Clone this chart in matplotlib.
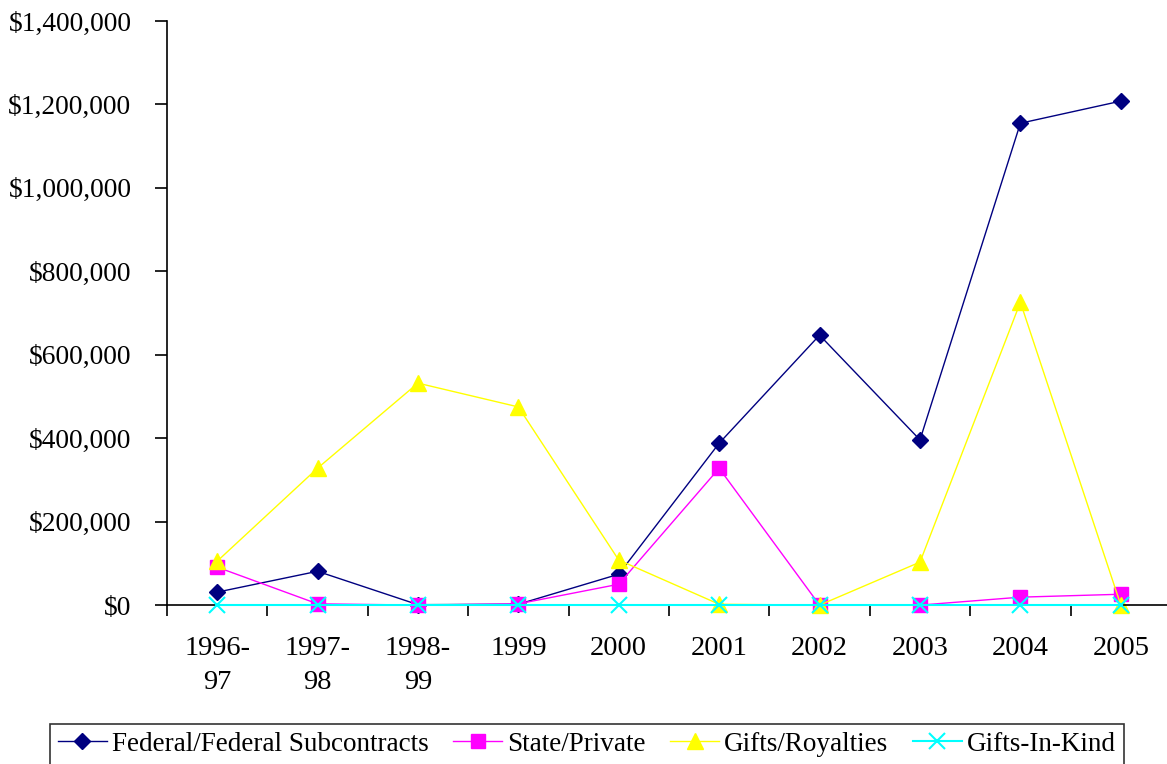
import numpy as np
import matplotlib
matplotlib.use("Agg")
import matplotlib.pyplot as plt
from matplotlib.ticker import FuncFormatter, FixedLocator

# datos
years = ["1996-\n97", "1997-\n98", "1998-\n99", "1999", "2000",
         "2001", "2002", "2003", "2004", "2005"]
federal = [31000, 81000, 1000, 2000, 74000, 388000, 647000, 396000, 1155000, 1208000]
state = [91000, 3000, 0, 3000, 50000, 328000, 0, 0, 19000, 26000]
gifts = [105000, 328000, 532000, 475000, 108000, 2000, 0, 103000, 726000, 0]
in_kind = [0, 0, 0, 0, 0, 0, 0, 0, 0, 0]

plt.rcParams['font.family'] = ['Liberation Serif', 'DejaVu Serif']

fig = plt.figure(figsize=(11.67, 7.64), dpi=100)
ax = fig.add_axes([0.143, 0.208, 0.857, 0.7645])

x = np.arange(len(years))
ax.plot(x, federal, color='#000080', lw=1, marker='D', ms=8, label='Federal/Federal Subcontracts', clip_on=False)
ax.plot(x, state, color='#FF00FF', lw=1, marker='s', ms=10, label='State/Private', clip_on=False)
ax.plot(x, gifts, color='#FFFF00', lw=1, marker='^', ms=11, label='Gifts/Royalties', clip_on=False)
ax.plot(x, in_kind, color='#00FFFF', lw=1.5, marker='x', ms=11, mew=1.5, label='Gifts-In-Kind', clip_on=False, zorder=5)

ax.set_ylim(0, 1400000)
ax.set_xlim(-0.5, 9.46)
ax.set_yticks(np.arange(0, 1400001, 200000))
ax.yaxis.set_major_formatter(FuncFormatter(lambda v, p: '${:,.0f}'.format(v)))

# ticks entre categorias, etiquetas en el centro
ax.xaxis.set_major_locator(FixedLocator(np.arange(-0.5, 9.6, 1.0)))
ax.xaxis.set_minor_locator(FixedLocator(x))
ax.set_xticklabels([], minor=False)
ax.set_xticklabels(years, minor=True, linespacing=1.5)
ax.tick_params(axis='x', which='major', length=8, width=1.2, direction='out')
ax.tick_params(axis='x', which='minor', length=0, pad=22, labelsize=20.5)
ax.tick_params(axis='y', length=9, width=1.2, pad=16.5, labelsize=19.8)

for s in ['top', 'right']:
    ax.spines[s].set_visible(False)
ax.spines['left'].set_linewidth(1.2)
ax.spines['bottom'].set_linewidth(1.2)

leg = fig.legend(loc='center', bbox_to_anchor=(0.503, 0.026), ncol=4, frameon=True,
                 fancybox=False, edgecolor='black', fontsize=19.5, handlelength=1.8,
                 columnspacing=0.9, handletextpad=0.2, borderpad=0.3)
leg.get_frame().set_linewidth(1.2)

fig.savefig('out.png', dpi=100)
